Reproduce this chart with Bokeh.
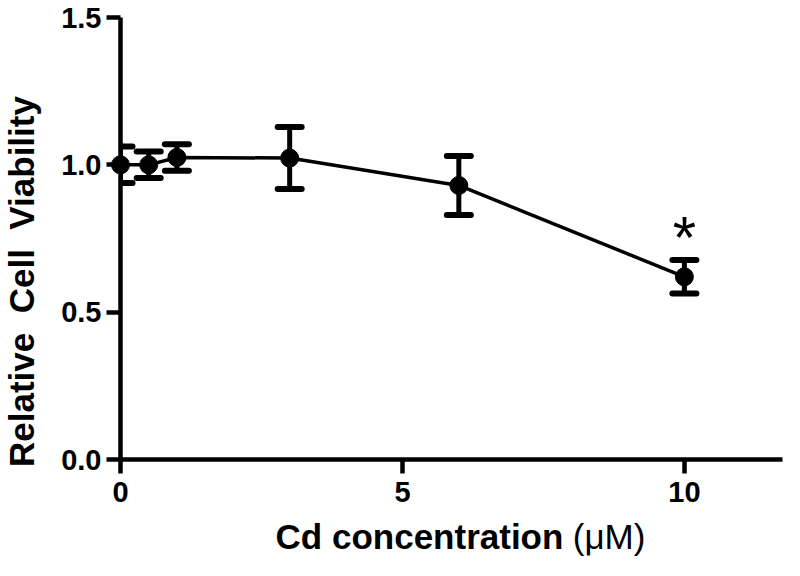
from bokeh.plotting import figure
from bokeh.models import ColumnDataSource, Whisker, Range1d, FixedTicker, CustomJSTickFormatter
from bokeh.core.properties import value
from bokeh.embed import file_html
from bokeh.resources import INLINE

conc = [0, 0.5, 1, 3, 6, 10]
viability = [1.00, 1.00, 1.025, 1.023, 0.93, 0.62]
err = [0.062, 0.045, 0.045, 0.105, 0.10, 0.057]
x_ticks = [0, 5, 10]
y_ticks = [0.0, 0.5, 1.0, 1.5]
sig_x = [10]
sig_y = [0.755]
sig_text = ["*"]
x_title_bold = "Cd concentration"
x_title_unit = "(μM)"
y_title = "Relative\u00a0 Cell\u00a0 Viability"

lower = [v - e for v, e in zip(viability, err)]
upper = [v + e for v, e in zip(viability, err)]
src = ColumnDataSource(data=dict(x=conc, y=viability, lower=lower, upper=upper))

p = figure(width=784, height=560, output_backend="svg", toolbar_location=None,
           x_range=Range1d(0, 11.74), y_range=Range1d(0, 1.5),
           min_border_left=120, min_border_top=17, min_border_bottom=101, min_border_right=2)
p.outline_line_color = None
p.grid.visible = False
p.background_fill_color = "white"
p.border_fill_color = "white"

p.line("x", "y", source=src, line_color="black", line_width=3.5, level="overlay")
w = Whisker(base="x", lower="lower", upper="upper", source=src, level="overlay",
            line_color="black", line_width=5)
for h in (w.upper_head, w.lower_head):
    h.size = 24
    h.line_width = 6
    h.line_cap = "round"
    h.line_color = "black"
p.add_layout(w)
p.scatter("x", "y", source=src, size=18, color="black", level="overlay")

p.text(x=sig_x, y=sig_y, text=sig_text, text_font=value("Liberation Sans"),
       text_font_size="60px", text_align="center", text_baseline="middle",
       text_color="black", level="overlay")

# axis titles (x title has a bold part and a regular unit part)
p.text(x=[2.75], y=[-0.262], text=[x_title_bold], text_font=value("Liberation Sans"),
       text_font_style="bold", text_font_size="35px", text_align="left",
       text_baseline="alphabetic", text_color="black", level="overlay")
p.text(x=[8.02], y=[-0.262], text=[x_title_unit], text_font=value("Liberation Sans"),
       text_font_style="normal", text_font_size="35px", text_align="left",
       text_baseline="alphabetic", text_color="black", level="overlay")
p.text(x=[-1.75], y=[0.604], text=[y_title], text_font=value("Liberation Sans"),
       text_font_style="bold", text_font_size="35px", text_align="center",
       text_baseline="alphabetic", angle=1.5708, text_color="black", level="overlay")

for ax in (p.xaxis[0], p.yaxis[0]):
    ax.axis_line_width = 4.5
    ax.axis_line_color = "black"
    ax.major_tick_line_width = 4.5
    ax.major_tick_line_color = "black"
    ax.major_tick_out = 14
    ax.major_tick_in = 0
    ax.minor_tick_line_color = None
    ax.major_label_text_font = "Liberation Sans"
    ax.major_label_text_font_style = "bold"
    ax.major_label_text_font_size = "29px"
    ax.major_label_text_color = "black"

p.xaxis.ticker = FixedTicker(ticks=x_ticks)
p.yaxis.ticker = FixedTicker(ticks=y_ticks)
p.yaxis.formatter = CustomJSTickFormatter(code="return tick.toFixed(1);")
p.xaxis.major_label_standoff = 8
p.yaxis.major_label_standoff = 5

open("out.html", "w").write(file_html(p, INLINE))
